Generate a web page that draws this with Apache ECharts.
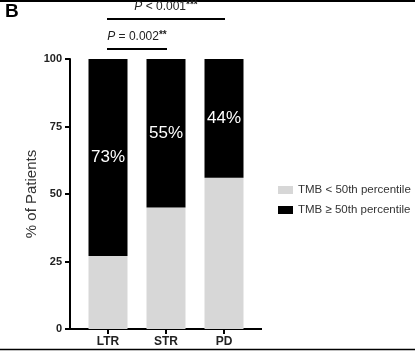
<!DOCTYPE html>
<html>
<head>
<meta charset="utf-8">
<style>
  html,body{margin:0;padding:0;background:#fff;}
  #chart{width:415px;height:351px;}
</style>
<script src="https://cdn.jsdelivr.net/npm/echarts@6/dist/echarts.min.js"></script>
</head>
<body>
<div id="chart"></div>
<script>
// data
var categories = ['LTR', 'STR', 'PD'];
var lowTMB = [27, 45, 56];     // TMB < 50th percentile
var highTMB = [73, 55, 44];    // TMB >= 50th percentile
var seriesNames = ['TMB < 50th percentile', 'TMB \u2265 50th percentile'];
// significance brackets
var sigFrom = ['LTR', 'LTR'];
var sigTo = ['STR', 'PD'];
var sigLevel = [103.7, 114.8];
var sigText = ['= 0.002', '< 0.001'];
var sigStars = ['**', '***'];

var font = 'Liberation Sans, Arial, sans-serif';

var chart = echarts.init(document.getElementById('chart'));

var option = {
    animation: false,
    textStyle: {fontFamily: font},
    grid: {left: 79, right: 162, top: 59, bottom: 22},
    legend: {
        orient: 'vertical',
        left: 273,
        top: 179,
        itemWidth: 15,
        itemHeight: 8,
        itemGap: 8,
        icon: 'rect',
        textStyle: {fontSize: 11.5, color: '#333', fontFamily: font},
        data: seriesNames
    },
    xAxis: {
        type: 'category',
        data: categories,
        axisLine: {show: false},
        axisTick: {show: true, alignWithLabel: true, length: 5, lineStyle: {color: '#000', width: 2}},
        axisLabel: {fontSize: 12, fontWeight: 'bold', color: '#222', margin: 7}
    },
    yAxis: {
        type: 'value',
        min: 0,
        max: 100,
        interval: 25,
        offset: 9,
        name: '% of Patients',
        nameLocation: 'middle',
        nameGap: 26,
        nameTextStyle: {fontSize: 15, color: '#333', fontWeight: 500},
        axisLine: {show: true, lineStyle: {color: '#000', width: 2}},
        axisTick: {show: true, length: 5, lineStyle: {color: '#000', width: 2}},
        axisLabel: {fontSize: 11, fontWeight: 'bold', color: '#222', margin: 8},
        splitLine: {show: false}
    },
    series: [
        {
            name: seriesNames[0],
            type: 'bar',
            stack: 'tmb',
            barWidth: 39,
            itemStyle: {color: '#d7d7d7'},
            data: lowTMB
        },
        {
            name: seriesNames[1],
            type: 'bar',
            stack: 'tmb',
            barWidth: 39,
            itemStyle: {color: '#000'},
            label: {
                show: true,
                position: 'inside',
                color: '#fff',
                fontSize: 17,
                formatter: function (p) { return p.value + '%'; }
            },
            data: highTMB
        }
    ]
};
chart.setOption(option);

// brackets sit above the axis max, so they are placed through the axes here
var y0 = chart.convertToPixel({yAxisIndex: 0}, 0);
var graphics = [
    {type: 'line', shape: {x1: 69, y1: y0, x2: 262, y2: y0}, style: {stroke: '#000', lineWidth: 2}},
    {type: 'line', shape: {x1: 0, y1: 1, x2: 415, y2: 1}, style: {stroke: '#000', lineWidth: 2}},
    {type: 'line', shape: {x1: 0, y1: 349.5, x2: 415, y2: 349.5}, style: {stroke: '#000', lineWidth: 1.5}},
    {type: 'text', left: 5, top: 2, style: {text: 'B', fontSize: 19, fontWeight: 'bold', fill: '#000', fontFamily: font}}
];
for (var i = 0; i < sigFrom.length; i++) {
    var xa = chart.convertToPixel({xAxisIndex: 0}, sigFrom[i]);
    var xb = chart.convertToPixel({xAxisIndex: 0}, sigTo[i]);
    var ys = chart.convertToPixel({yAxisIndex: 0}, sigLevel[i]);
    graphics.push({type: 'line', shape: {x1: xa - 1, y1: ys, x2: xb + 1, y2: ys}, style: {stroke: '#000', lineWidth: 2}});
    graphics.push({
        type: 'text',
        x: (xa + xb) / 2,
        y: ys - 12,
        style: {
            text: '{p|P} {t|' + sigText[i] + '}{s|' + sigStars[i] + '}',
            align: 'center',
            verticalAlign: 'middle',
            fontFamily: font,
            rich: {
                p: {fontSize: 12, lineHeight: 13, fontStyle: 'italic', fill: '#222', fontFamily: font},
                t: {fontSize: 12, lineHeight: 13, fill: '#222', fontFamily: font},
                s: {fontSize: 10, lineHeight: 13, fontWeight: 'bold', fill: '#222', fontFamily: font, verticalAlign: 'top'}
            }
        }
    });
}
chart.setOption({graphic: graphics});
</script>
</body>
</html>
